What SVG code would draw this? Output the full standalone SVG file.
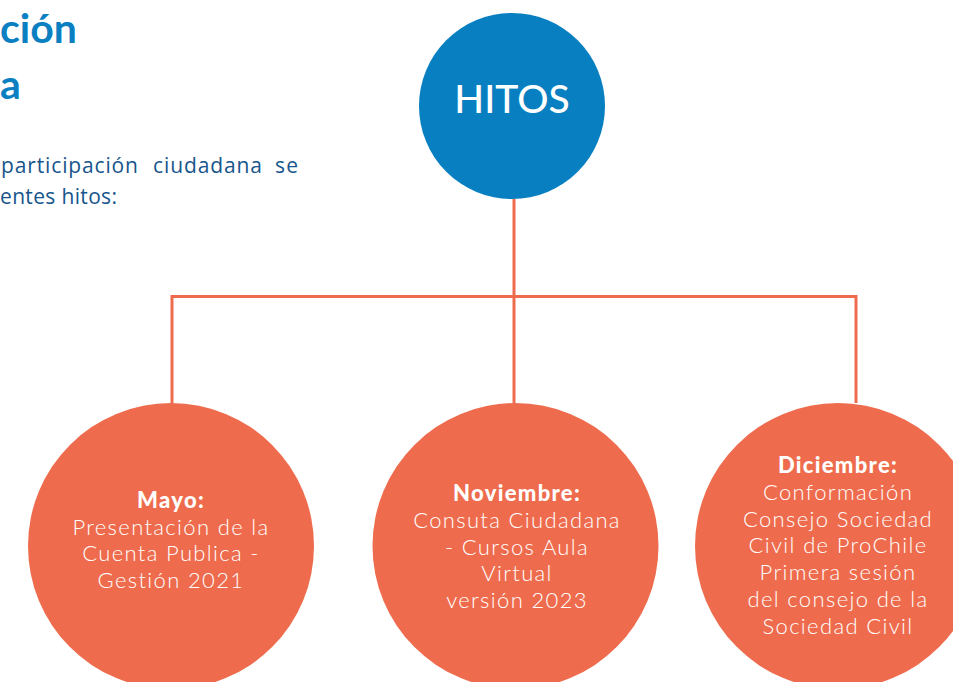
<svg xmlns="http://www.w3.org/2000/svg" width="953" height="682" viewBox="0 0 953 682">
<style>
.title{font-family:Lato,"Open Sans",sans-serif;font-weight:700;font-size:41px;fill:#0a7fc2}
.body{font-family:"Open Sans","Noto Sans",sans-serif;font-weight:400;font-size:21px;fill:#17558c}
.hub{fill:#077fc1}
.leaf{fill:#ee6c4d}
.hubtxt{font-family:Lato,"Open Sans",sans-serif;font-weight:500;font-size:39px;fill:#ffffff;text-anchor:middle}
.lbl{font-family:Lato,"Open Sans",sans-serif;font-weight:300;font-size:22px;letter-spacing:1.35px;fill:#ffffff;text-anchor:middle}
.lbl .b{font-weight:900;font-size:22px;letter-spacing:1.3px}
.conn{stroke:#ee6c4d;stroke-width:3;fill:none}
</style>
<rect width="953" height="682" fill="#ffffff"/>
<g id="intro">
<text class="title" x="0" y="43">ción</text>
<text class="title" x="0" y="99">a</text>
<text class="body" y="173"><tspan x="1" textLength="137" lengthAdjust="spacing">participación</tspan><tspan x="153" textLength="109" lengthAdjust="spacing">ciudadana</tspan><tspan x="275" textLength="23" lengthAdjust="spacing">se</tspan></text>
<text class="body" x="0" y="204" textLength="117" lengthAdjust="spacing">entes hitos:</text>
</g>
<g id="connectors">
<path class="conn" d="M514 199 V403"/>
<path class="conn" d="M172 403 V296.5 H856 V403"/>
</g>
<g id="hitos">
<circle class="hub" cx="512" cy="106" r="93"/>
<text class="hubtxt" x="512" y="113">HITOS</text>
</g>
<g id="mayo">
<circle class="leaf" cx="171" cy="546" r="143"/>
<text class="lbl" x="171" y="508"><tspan class="b">Mayo:</tspan><tspan x="171" dy="26.5">Presentación de la</tspan><tspan x="171" dy="26.5">Cuenta Publica -</tspan><tspan x="171" dy="26.5">Gestión 2021</tspan></text>
</g>
<g id="noviembre">
<circle class="leaf" cx="515.5" cy="546" r="143"/>
<text class="lbl" x="517" y="501"><tspan class="b">Noviembre:</tspan><tspan x="517" dy="26.8">Consuta Ciudadana</tspan><tspan x="517" dy="26.8">- Cursos Aula</tspan><tspan x="517" dy="26.8">Virtual</tspan><tspan x="517" dy="26.8">versión 2023</tspan></text>
</g>
<g id="diciembre">
<circle class="leaf" cx="838" cy="546" r="143"/>
<text class="lbl" x="838" y="473"><tspan class="b">Diciembre:</tspan><tspan x="838" dy="26.8">Conformación</tspan><tspan x="838" dy="26.8">Consejo Sociedad</tspan><tspan x="838" dy="26.8">Civil de ProChile</tspan><tspan x="838" dy="26.8">Primera sesión</tspan><tspan x="838" dy="26.8">del consejo de la</tspan><tspan x="838" dy="26.8">Sociedad Civil</tspan></text>
</g>
</svg>
